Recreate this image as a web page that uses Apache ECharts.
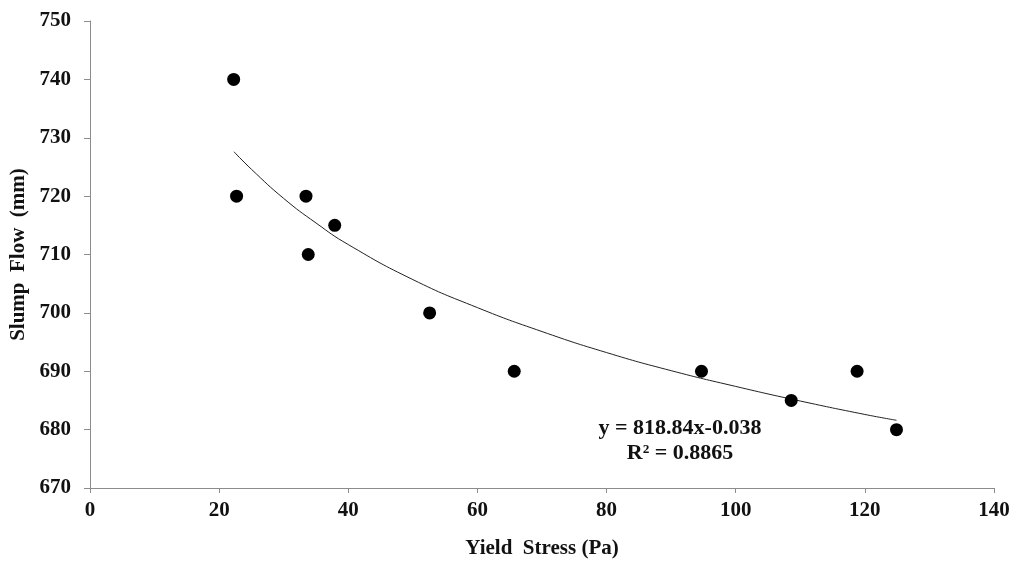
<!DOCTYPE html>
<html>
<head>
<meta charset="utf-8">
<script src="https://cdn.jsdelivr.net/npm/echarts@6/dist/echarts.min.js"></script>
<style>
html,body{margin:0;padding:0;background:#fff;}
#chart{width:1017px;height:562px;}
</style>
</head>
<body>
<div id="chart"></div>
<script>
// Measured points
const yieldStress = [22.25, 22.7, 33.45, 33.8, 37.9, 52.6, 65.7, 94.7, 108.6, 118.8, 124.9];
const slumpFlow   = [740, 720, 720, 710, 715, 700, 690, 690, 685, 690, 680];
// Power trendline
const trendX = [22.3, 25, 30, 35, 40, 50, 60, 70, 80, 90, 100, 110, 120, 124.9];
const trendY = [727.6, 724.6, 719.6, 715.4, 711.7, 705.7, 700.9, 696.8, 693.2, 690.1, 687.4, 684.9, 682.6, 681.6];
const xTicks = [0, 20, 40, 60, 80, 100, 120, 140];
const yTicks = [670, 680, 690, 700, 710, 720, 730, 740, 750];
const eqText = 'y = 818.84x-0.038';
const r2Text = 'R² = 0.8865';

const font = '"Liberation Serif", "Times New Roman", serif';
const chart = echarts.init(document.getElementById('chart'));
const axisGray = '#8c8c8c';
chart.setOption({
  animation: false,
  backgroundColor: '#ffffff',
  grid: { left: 90, right: 23, top: 21, bottom: 74, containLabel: false, outerBoundsMode: 'none' },
  xAxis: {
    type: 'value', min: xTicks[0], max: xTicks[xTicks.length - 1], interval: 20,
    name: 'Yield  Stress (Pa)', nameLocation: 'middle', nameGap: 50,
    nameTextStyle: { fontFamily: font, fontWeight: 'bold', fontSize: 21, color: '#111' },
    axisLine: { show: true, lineStyle: { color: axisGray, width: 1 } },
    axisTick: { show: true, inside: false, length: 5, lineStyle: { color: axisGray } },
    axisLabel: { fontFamily: font, fontWeight: 'bold', fontSize: 21, color: '#111', margin: 12 },
    splitLine: { show: false }
  },
  yAxis: {
    type: 'value', min: yTicks[0], max: yTicks[yTicks.length - 1], interval: 10,
    name: 'Slump  Flow  (mm)', nameLocation: 'middle', nameGap: 61, nameRotate: 90,
    nameTextStyle: { fontFamily: font, fontWeight: 'bold', fontSize: 21, color: '#111' },
    axisLine: { show: true, lineStyle: { color: axisGray, width: 1 } },
    axisTick: { show: true, inside: false, length: 6, lineStyle: { color: axisGray } },
    axisLabel: { fontFamily: font, fontWeight: 'bold', fontSize: 21, color: '#111', margin: 19 },
    splitLine: { show: false }
  },
  series: [
    {
      type: 'line', data: trendX.map((x, i) => [x, trendY[i]]),
      smooth: true, showSymbol: false, symbol: 'none',
      lineStyle: { color: '#222', width: 1 }, z: 2, silent: true
    },
    {
      type: 'scatter', data: yieldStress.map((x, i) => [x, slumpFlow[i]]),
      symbol: 'circle', symbolSize: 13,
      itemStyle: { color: '#000', opacity: 1 }, z: 3
    }
  ],
  graphic: [
    { type: 'text', x: 680, y: 417, style: { text: eqText, fill: '#111', font: 'bold 22px ' + font, textAlign: 'center', textVerticalAlign: 'top' } },
    { type: 'text', x: 680, y: 442, style: { text: r2Text, fill: '#111', font: 'bold 22px ' + font, textAlign: 'center', textVerticalAlign: 'top' } }
  ]
});
</script>
</body>
</html>
